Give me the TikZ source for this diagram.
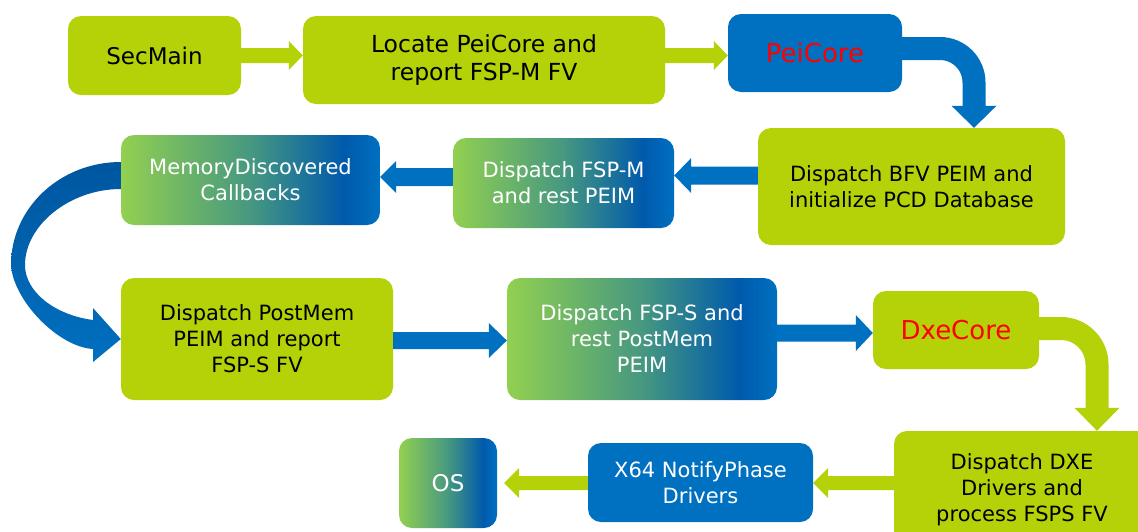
\documentclass[tikz,border=0pt]{standalone}
\usepackage{fontspec}
\setmainfont{DejaVu Sans}
\usetikzlibrary{calc}
\definecolor{limeg}{RGB}{181,209,8}
\definecolor{bblue}{RGB}{0,112,192}
\definecolor{dblue}{RGB}{0,86,160}
\definecolor{gg}{RGB}{146,208,80}
\definecolor{gm}{RGB}{70,152,128}
\definecolor{gd}{RGB}{0,90,172}
\definecolor{txtred}{RGB}{255,0,0}
\pgfdeclarehorizontalshading{gbshade}{100bp}{color(0bp)=(gg); color(25bp)=(gg); color(50bp)=(gm); color(68bp)=(gd); color(75bp)=(bblue); color(100bp)=(bblue)}
\newcommand\harrow[6]{\fill[#1] ($(#2)+(0,#4)$) -- ($(#3)+({0-(#6)},#4)$) -- ($(#3)+({0-(#6)},#5)$) -- (#3) -- ($(#3)+({0-(#6)},-#5)$) -- ($(#3)+({0-(#6)},-#4)$) -- ($(#2)+(0,-#4)$) -- cycle;}
\tikzset{
  box/.style={rounded corners=13pt, align=center, inner sep=0pt, font=\fontsize{21}{26}\selectfont},
  limebox/.style={box, fill=limeg, text=black},
  bluebox/.style={box, fill=bblue, text=white},
  gradbox/.style={box, shade, shading=gbshade, text=white},
}
\begin{document}
\begin{tikzpicture}[x=1pt,y=-1pt]
\useasboundingbox (0,0) rectangle (1138,531);
\clip (0,0) rectangle (1138,531);
\fill[white] (0,0) rectangle (1138,531);

\node[limebox, minimum width=173pt, minimum height=79pt, font=\fontsize{23}{28}\selectfont] (sec) at (154.5,55.5) {SecMain};
\node[limebox, minimum width=362pt, minimum height=88pt, font=\fontsize{23.5}{28}\selectfont] (loc) at (484,60) {Locate PeiCore and\\report FSP-M FV};
\node[bluebox, text=txtred, minimum width=174pt, minimum height=78pt, font=\fontsize{26}{31}\selectfont] (pei) at (815,53) {PeiCore};
\node[limebox, minimum width=307pt, minimum height=117pt] (bfv) at (911.5,186.5) {Dispatch BFV PEIM and\\initialize PCD Database};
\node[gradbox, minimum width=221pt, minimum height=90pt] (fspm) at (563.5,183) {Dispatch FSP-M\\and rest PEIM};
\node[gradbox, minimum width=259pt, minimum height=90pt] (mem) at (250.5,180) {MemoryDiscovered\\Callbacks};
\node[limebox, minimum width=272pt, minimum height=122pt] (post) at (257,339) {Dispatch PostMem\\PEIM and report\\FSP-S FV};
\node[gradbox, minimum width=270pt, minimum height=122pt] (fsps) at (642,339) {Dispatch FSP-S and\\rest PostMem\\PEIM};
\node[limebox, text=txtred, minimum width=166pt, minimum height=78pt, font=\fontsize{26}{31}\selectfont] (dxe) at (956,330) {DxeCore};
\node[limebox, minimum width=256pt, minimum height=118pt] (drv) at (1022,490) {Dispatch DXE\\Drivers and\\process FSPS FV};
\node[bluebox, minimum width=225pt, minimum height=79pt] (x64) at (700.5,482.5) {X64 NotifyPhase\\Drivers};
\node[gradbox, minimum width=98pt, minimum height=90pt, font=\fontsize{23}{28}\selectfont] (os) at (448,483) {OS};

% SecMain -> Locate
\coordinate (a1s) at (sec.east);
\coordinate (a1t) at (sec.east -| loc.west);
\harrow{limeg}{a1s}{a1t}{7.5}{14.5}{14}
% Locate -> PeiCore
\coordinate (a2s) at ([yshift=4.5pt]loc.east);
\coordinate (a2t) at (a2s -| pei.west);
\harrow{limeg}{a2s}{a2t}{7.5}{14.5}{14}
% PeiCore -> BFV (bent)
\coordinate (a3s) at ([yshift=4.5pt,xshift=-2pt]pei.east);
\coordinate (a3t) at ([xshift=62.5pt]bfv.north);
\coordinate (a3b) at ([yshift=22pt]a3t);
\draw[bblue, line width=23pt, rounded corners=34pt] (a3s) -| ([yshift=-1pt]a3b);
\fill[bblue] (a3t) -- ([xshift=-22.5pt]a3b) -- ([xshift=22.5pt]a3b) -- cycle;
% BFV -> FSP-M
\coordinate (a4s) at ([yshift=11pt]bfv.west);
\coordinate (a4t) at (a4s -| fspm.east);
\harrow{bblue}{a4s}{a4t}{9}{17.5}{-17}
% FSP-M -> MemoryDiscovered
\coordinate (a5s) at ([yshift=6pt]fspm.west);
\coordinate (a5t) at (a5s -| mem.east);
\harrow{bblue}{a5s}{a5t}{9}{16}{-16}
% MemoryDiscovered -> PostMem (curved)
\shade[top color=dblue, bottom color=bblue]
  ([yshift=18pt]mem.west) .. controls (60,162) and (11,208) .. (11,265)
  .. controls (13,300) and (58,347) .. (93,349)
  -- (93,362) -- (post.west) -- (93,308) -- (93,320)
  .. controls (55,315) and (25,292) .. (25,265)
  .. controls (25,225) and (70,189) .. ([yshift=-9pt]mem.west) -- cycle;
% PostMem -> FSP-S
\coordinate (a7s) at ([yshift=-1.5pt]post.east);
\coordinate (a7t) at (a7s -| fsps.west);
\harrow{bblue}{a7s}{a7t}{8.5}{17.5}{18}
% FSP-S -> DxeCore
\coordinate (a8s) at ([yshift=6pt]fsps.east);
\coordinate (a8t) at (a8s -| dxe.west);
\harrow{bblue}{a8s}{a8t}{8.5}{18}{17}
% DxeCore -> DXE drivers (bent)
\coordinate (a9s) at ([yshift=1.5pt,xshift=-2pt]dxe.east);
\coordinate (a9t) at ([xshift=75pt]drv.north);
\coordinate (a9b) at ([yshift=23pt]a9t);
\draw[limeg, line width=23pt, rounded corners=36pt] (a9s) -| ([yshift=-1pt]a9b);
\fill[limeg] (a9t) -- ([xshift=-22.5pt]a9b) -- ([xshift=22.5pt]a9b) -- cycle;
% DXE drivers -> X64
\coordinate (a10s) at ([yshift=7pt]drv.west);
\coordinate (a10t) at (a10s -| x64.east);
\harrow{limeg}{a10s}{a10t}{7}{15}{-15}
% X64 -> OS
\coordinate (a11s) at (a10s -| x64.west);
\coordinate (a11t) at ($(a10s -| os.east)+(7,0)$);
\harrow{limeg}{a11s}{a11t}{7}{15}{-15}
\end{tikzpicture}
\end{document}
